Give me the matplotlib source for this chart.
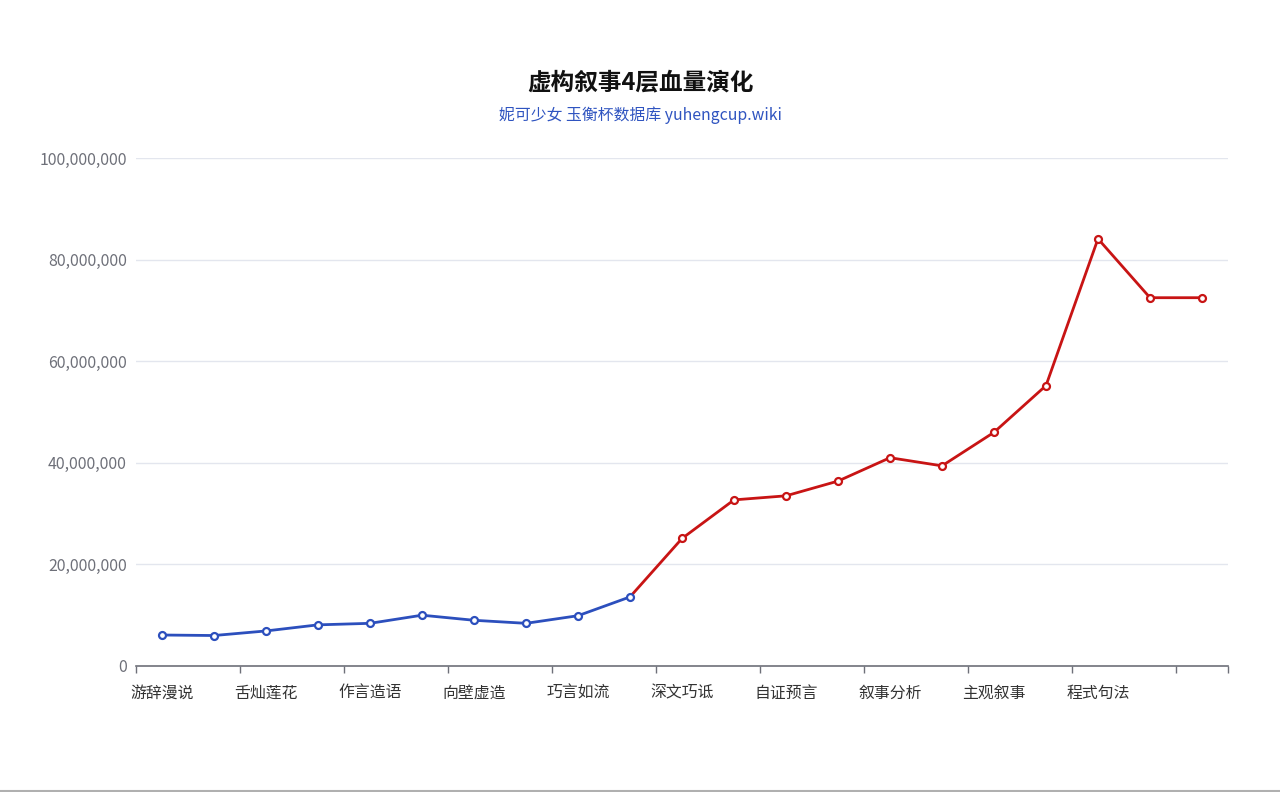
import matplotlib
matplotlib.use("Agg")
import matplotlib.pyplot as plt
from matplotlib.ticker import FuncFormatter, FixedLocator
import numpy as np

plt.rcParams['font.family'] = ['Noto Sans CJK SC', 'DejaVu Sans']

# shown category labels (every other category)
shown_labels = ["游辞漫说", "舌灿莲花", "作言造语", "向壁虚造", "巧言如流",
                "深文巧诋", "自证预言", "叙事分析", "主观叙事", "程式句法"]
# HP values (millions) per level, 21 levels
hp_millions = [6.1, 6.0, 6.9, 8.1, 8.4, 10.0, 9.0, 8.4, 9.9, 13.6,
               25.1, 32.7, 33.5, 36.4, 41.0, 39.4, 46.0, 55.2, 84.1, 72.5, 72.5]
split_index = 9  # last blue point

title = "虚构叙事4层血量演化"
subtitle = "妮可少女 玉衡杯数据库 yuhengcup.wiki"

values = np.array(hp_millions) * 1e6
n = len(values)
x = np.arange(n)

blue = "#2c4fbd"
red = "#c81414"

fig = plt.figure(figsize=(12.8, 7.92), dpi=100)
ax = fig.add_axes([136/1280, 1-666/792, 1092/1280, 508/792])

ax.plot(x[split_index:], values[split_index:], color=red, lw=2, zorder=3)
ax.plot(x[:split_index+1], values[:split_index+1], color=blue, lw=2, zorder=4)
ax.plot(x[split_index+1:], values[split_index+1:], ls='none', marker='o', ms=5,
        mfc='white', mec=red, mew=1.6, zorder=5)
ax.plot(x[:split_index+1], values[:split_index+1], ls='none', marker='o', ms=5,
        mfc='white', mec=blue, mew=1.6, zorder=6)

ax.set_xlim(-0.5, n - 0.5)
ax.set_ylim(0, 100e6)

ax.set_yticks(np.arange(0, 100e6 + 1, 20e6))
ax.yaxis.set_major_formatter(FuncFormatter(lambda v, p: f"{int(v):,}"))
ax.tick_params(axis='y', length=0, pad=6.5, labelsize=11.4, labelcolor="#6e7079")
ax.grid(axis='y', color="#e3e6ee", lw=1)
ax.set_axisbelow(True)

bounds = list(np.arange(-0.5, n - 0.5, 2)) + [n - 0.5]
ax.xaxis.set_major_locator(FixedLocator(bounds))
ax.set_xticklabels([""] * len(bounds))
ax.tick_params(axis='x', which='major', length=5, width=1, color="#6e7079", direction='out')
ax.xaxis.set_minor_locator(FixedLocator(list(range(0, 2 * len(shown_labels), 2))))
ax.set_xticklabels(shown_labels, minor=True)
ax.tick_params(axis='x', which='minor', length=0, pad=13.5, labelsize=11.4, labelcolor="#333333")

for s in ['top', 'right', 'left']:
    ax.spines[s].set_visible(False)
ax.spines['bottom'].set_color("#6e7079")
ax.spines['bottom'].set_linewidth(1.2)

fig.text(0.5, 1 - 82/792, title, ha='center', va='center', fontsize=17,
         fontweight='bold', color="#111111")
fig.text(0.5, 1 - 115/792, subtitle, ha='center', va='center', fontsize=11.4,
         color="#2f54c0")

fig.add_artist(plt.Line2D([0, 1], [1/792, 1/792], color="#b0b0b0", lw=1.5))

fig.savefig("out.png", dpi=100, facecolor="white")
